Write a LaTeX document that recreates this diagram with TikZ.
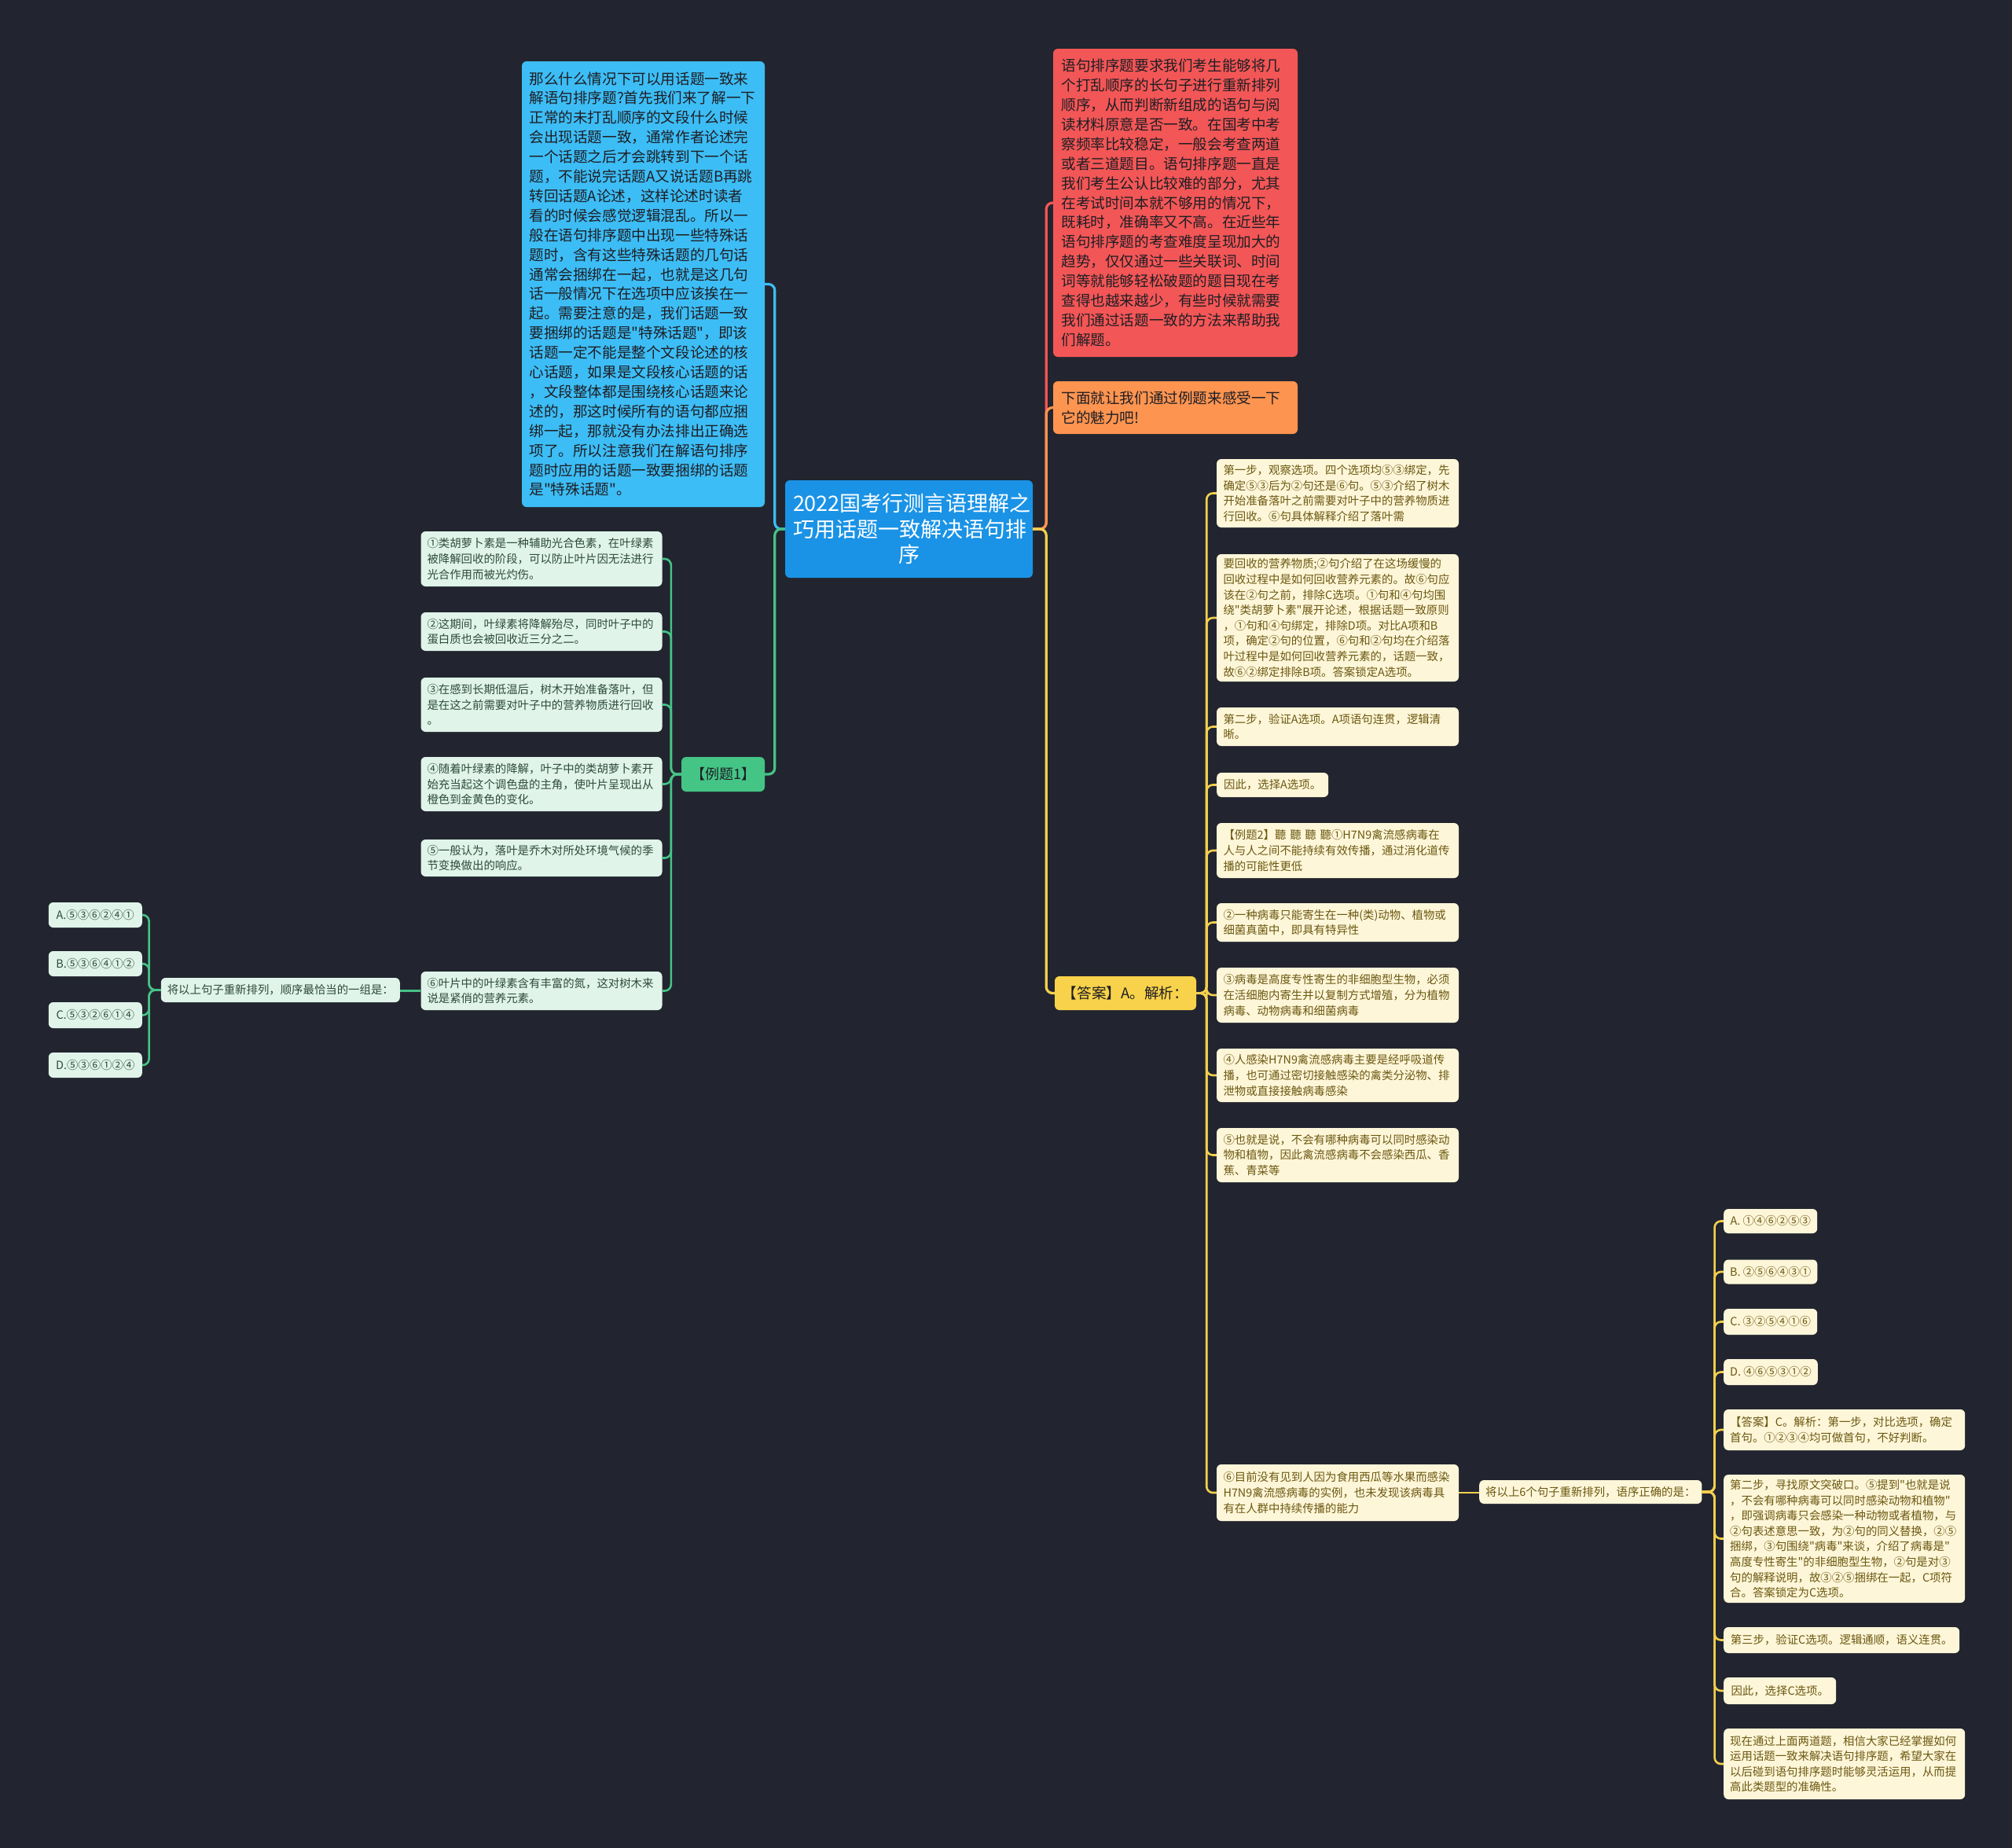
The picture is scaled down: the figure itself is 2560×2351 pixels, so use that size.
\documentclass[tikz,border=0pt]{standalone}
\usepackage{fontspec}
\setmainfont{Noto Sans CJK SC}[Ligatures=TeXOff]
\definecolor{bg}{HTML}{22252F}
\definecolor{rootfill}{HTML}{1A93E6}
\definecolor{skyfill}{HTML}{3DBDF5}
\definecolor{redfill}{HTML}{F35656}
\definecolor{orangefill}{HTML}{FD9450}
\definecolor{ansfill}{HTML}{F8D24A}
\definecolor{exfill}{HTML}{44C586}
\definecolor{cream}{HTML}{FEF6D9}
\definecolor{olive}{HTML}{6B5810}
\definecolor{mint}{HTML}{E0F4E9}
\definecolor{mintext}{HTML}{2E4A3B}
\definecolor{darktext}{HTML}{1E1E24}
\definecolor{ylw}{HTML}{F3D04E}
\definecolor{grn}{HTML}{45C386}
\begin{document}
\begin{tikzpicture}[x=1pt,y=-1pt,
  box/.style={rectangle, rounded corners=6pt, inner xsep=8pt, inner ysep=0pt},
  sz/.style 2 args={minimum width=#1pt, minimum height=#2pt},
  bigbox/.style={box, text=darktext, font=\fontsize{18.6}{24.9}\selectfont, align=left, text width=290pt},
  leafY/.style={box, fill=cream, text=olive, font=\fontsize{14.4}{19.6}\selectfont, align=left},
  leafG/.style={box, fill=mint, text=mintext, font=\fontsize{14.4}{19.6}\selectfont, align=left},
  wide/.style={text width=291pt},
  conn/.style={line width=3.2pt, rounded corners=8pt},
  sub/.style={line width=2.6pt, rounded corners=8pt}]
\useasboundingbox (0,0) rectangle (2560,2351);
\fill[bg] (0,0) rectangle (2560,2351);

% root
\node[box, fill=rootfill, text=white, sz={315}{124}, text width=295pt, align=center,
  font=\fontsize{27}{32.7}\selectfont] (root) at (1156.5,673)
  {2022国考行测言语理解之\\巧用话题一致解决语句排\\序};

% left top blue
\node[bigbox, fill=skyfill, sz={309}{567}] (sky) at (818.5,361.5) {%
那么什么情况下可以用话题一致来\\
解语句排序题?首先我们来了解一下\\
正常的未打乱顺序的文段什么时候\\
会出现话题一致，通常作者论述完\\
一个话题之后才会跳转到下一个话\\
题，不能说完话题A又说话题B再跳\\
转回话题A论述，这样论述时读者\\
看的时候会感觉逻辑混乱。所以一\\
般在语句排序题中出现一些特殊话\\
题时，含有这些特殊话题的几句话\\
通常会捆绑在一起，也就是这几句\\
话一般情况下在选项中应该挨在一\\
起。需要注意的是，我们话题一致\\
要捆绑的话题是"特殊话题"，即该\\
话题一定不能是整个文段论述的核\\
心话题，如果是文段核心话题的话\\
，文段整体都是围绕核心话题来论\\
述的，那这时候所有的语句都应捆\\
绑一起，那就没有办法排出正确选\\
项了。所以注意我们在解语句排序\\
题时应用的话题一致要捆绑的话题\\
是"特殊话题"。};

% red
\node[bigbox, fill=redfill, sz={311}{392}] (red) at (1495.5,258) {%
语句排序题要求我们考生能够将几\\
个打乱顺序的长句子进行重新排列\\
顺序，从而判断新组成的语句与阅\\
读材料原意是否一致。在国考中考\\
察频率比较稳定，一般会考查两道\\
或者三道题目。语句排序题一直是\\
我们考生公认比较难的部分，尤其\\
在考试时间本就不够用的情况下，\\
既耗时，准确率又不高。在近些年\\
语句排序题的考查难度呈现加大的\\
趋势，仅仅通过一些关联词、时间\\
词等就能够轻松破题的题目现在考\\
查得也越来越少，有些时候就需要\\
我们通过话题一致的方法来帮助我\\
们解题。};

% orange
\node[bigbox, fill=orangefill, sz={311}{67}] (ora) at (1495.5,518.5) {%
下面就让我们通过例题来感受一下\\它的魅力吧!};

% answer A
\node[box, fill=ansfill, text=darktext, font=\fontsize{18.6}{24.9}\selectfont, sz={180}{43}] (ans) at (1432,1263.5) {【答案】A。解析：};

% right leaves
\node[leafY, wide, sz={308}{87}] (r1) at (1702,627.5) {%
第一步，观察选项。四个选项均⑤③绑定，先\\
确定⑤③后为②句还是⑥句。⑤③介绍了树木\\
开始准备落叶之前需要对叶子中的营养物质进\\
行回收。⑥句具体解释介绍了落叶需};
\node[leafY, wide, sz={308}{162}] (r2) at (1702,786) {%
要回收的营养物质;②句介绍了在这场缓慢的\\
回收过程中是如何回收营养元素的。故⑥句应\\
该在②句之前，排除C选项。①句和④句均围\\
绕"类胡萝卜素"展开论述，根据话题一致原则\\
，①句和④句绑定，排除D项。对比A项和B\\
项，确定②句的位置，⑥句和②句均在介绍落\\
叶过程中是如何回收营养元素的，话题一致，\\
故⑥②绑定排除B项。答案锁定A选项。};
\node[leafY, wide, sz={308}{49}] (r3) at (1702,924.5) {%
第二步，验证A选项。A项语句连贯，逻辑清\\晰。};
\node[leafY, sz={142}{31}, anchor=west] (r4) at (1548,998.5) {因此，选择A选项。};
\node[leafY, wide, sz={308}{70}] (r5) at (1702,1082) {%
【例题2】聽 聽 聽 聽①H7N9禽流感病毒在\\
人与人之间不能持续有效传播，通过消化道传\\
播的可能性更低};
\node[leafY, wide, sz={308}{49}] (r6) at (1702,1173.5) {%
②一种病毒只能寄生在一种(类)动物、植物或\\
细菌真菌中，即具有特异性};
\node[leafY, wide, sz={308}{70}] (r7) at (1702,1266) {%
③病毒是高度专性寄生的非细胞型生物，必须\\
在活细胞内寄生并以复制方式增殖，分为植物\\
病毒、动物病毒和细菌病毒};
\node[leafY, wide, sz={308}{68}] (r8) at (1702,1368) {%
④人感染H7N9禽流感病毒主要是经呼吸道传\\
播，也可通过密切接触感染的禽类分泌物、排\\
泄物或直接接触病毒感染};
\node[leafY, wide, sz={308}{69}] (r9) at (1702,1469.5) {%
⑤也就是说，不会有哪种病毒可以同时感染动\\
物和植物，因此禽流感病毒不会感染西瓜、香\\
蕉、青菜等};
\node[leafY, wide, sz={308}{72}] (r10) at (1702,1899) {%
⑥目前没有见到人因为食用西瓜等水果而感染\\
H7N9禽流感病毒的实例，也未发现该病毒具\\
有在人群中持续传播的能力};

\node[leafY, sz={283}{30}, anchor=west] (q) at (1882,1898) {将以上6个句子重新排列，语序正确的是：};

\node[leafY, sz={119}{31}, anchor=west] (qa) at (2193,1553.5) {A. ①④⑥②⑤③};
\node[leafY, sz={119}{31}, anchor=west] (qb) at (2193,1618) {B. ②⑤⑥④③①};
\node[leafY, sz={119}{33}, anchor=west] (qc) at (2193,1681.5) {C. ③②⑤④①⑥};
\node[leafY, sz={119}{33}, anchor=west] (qd) at (2193,1745.5) {D. ④⑥⑤③①②};
\node[leafY, wide, sz={305}{52}, anchor=west] (qans) at (2193,1819) {%
【答案】C。解析：第一步，对比选项，确定\\
首句。①②③④均可做首句，不好判断。};
\node[leafY, wide, sz={305}{163}, anchor=west] (qs2) at (2193,1957.5) {%
第二步，寻找原文突破口。⑤提到"也就是说\\
，不会有哪种病毒可以同时感染动物和植物"\\
，即强调病毒只会感染一种动物或者植物，与\\
②句表述意思一致，为②句的同义替换，②⑤\\
捆绑，③句围绕"病毒"来谈，介绍了病毒是"\\
高度专性寄生"的非细胞型生物，②句是对③\\
句的解释说明，故③②⑤捆绑在一起，C项符\\
合。答案锁定为C选项。};
\node[leafY, sz={300}{33}, anchor=west] (qs3) at (2193,2086.5) {第三步，验证C选项。逻辑通顺，语义连贯。};
\node[leafY, sz={143}{34}, anchor=west] (qthus) at (2193,2151) {因此，选择C选项。};
\node[leafY, wide, sz={305}{90}, anchor=west] (qnow) at (2193,2244) {%
现在通过上面两道题，相信大家已经掌握如何\\
运用话题一致来解决语句排序题，希望大家在\\
以后碰到语句排序题时能够灵活运用，从而提\\
高此类题型的准确性。};

% left: example 1
\node[box, fill=exfill, text=darktext, font=\fontsize{18}{24}\selectfont, sz={106}{44}] (ex) at (920,985) {【例题1】};

\node[leafG, wide, sz={304}{70}] (g1) at (689,711) {%
①类胡萝卜素是一种辅助光合色素，在叶绿素\\
被降解回收的阶段，可以防止叶片因无法进行\\
光合作用而被光灼伤。};
\node[leafG, wide, sz={304}{49}] (g2) at (689,803.5) {%
②这期间，叶绿素将降解殆尽，同时叶子中的\\
蛋白质也会被回收近三分之二。};
\node[leafG, wide, sz={304}{69}] (g3) at (689,896.5) {%
③在感到长期低温后，树木开始准备落叶，但\\
是在这之前需要对叶子中的营养物质进行回收\\
。};
\node[leafG, wide, sz={304}{69}] (g4) at (689,997.5) {%
④随着叶绿素的降解，叶子中的类胡萝卜素开\\
始充当起这个调色盘的主角，使叶片呈现出从\\
橙色到金黄色的变化。};
\node[leafG, wide, sz={304}{47}] (g5) at (689,1091.5) {%
⑤一般认为，落叶是乔木对所处环境气候的季\\
节变换做出的响应。};
\node[leafG, wide, sz={304}{49}] (g6) at (689,1260.5) {%
⑥叶片中的叶绿素含有丰富的氮，这对树木来\\
说是紧俏的营养元素。};

\node[leafG, sz={303}{31}, anchor=east] (lq) at (509,1259.5) {将以上句子重新排列，顺序最恰当的一组是：};
\node[leafG, sz={119}{32}, anchor=east] (la) at (181,1164) {A.⑤③⑥②④①};
\node[leafG, sz={119}{32}, anchor=east] (lb) at (181,1226) {B.⑤③⑥④①②};
\node[leafG, sz={119}{33}, anchor=east] (lc) at (181,1291.5) {C.⑤③②⑥①④};
\node[leafG, sz={119}{32}, anchor=east] (ld) at (181,1355) {D.⑤③⑥①②④};

% connectors from root
\draw[conn, skyfill] (root.west) -- ++(-13,0) |- (sky.east);
\draw[conn, grn] (root.west) -- ++(-13,0) |- (ex.east);
\draw[conn, redfill] (root.east) -- ++(17,0) |- (red.west);
\draw[conn, orangefill] (root.east) -- ++(17,0) |- (ora.west);
\draw[conn, ylw] (root.east) -- ++(17,0) |- (ans.west);

% answer A children
\foreach \n in {r1,r2,r3,r4,r5,r6,r7,r8,r9,r10}
  \draw[sub, ylw] (ans.east) -- ++(13,0) |- (\n.west);
\draw[sub, ylw] (r10.east) -- (r10.east -| q.west);
\foreach \n in {qa,qb,qc,qd,qans,qs2,qs3,qthus,qnow}
  \draw[sub, ylw] (q.east) -- ++(16,0) |- (\n.west);

% example 1 children
\foreach \n in {g1,g2,g3,g4,g5,g6}
  \draw[sub, grn] (ex.west) -- ++(-13,0) |- (\n.east);
\draw[sub, grn] (g6.west) -- (g6.west -| lq.east);
\foreach \n in {la,lb,lc,ld}
  \draw[sub, grn] (lq.west) -- ++(-15,0) |- (\n.east);
\end{tikzpicture}
\end{document}
